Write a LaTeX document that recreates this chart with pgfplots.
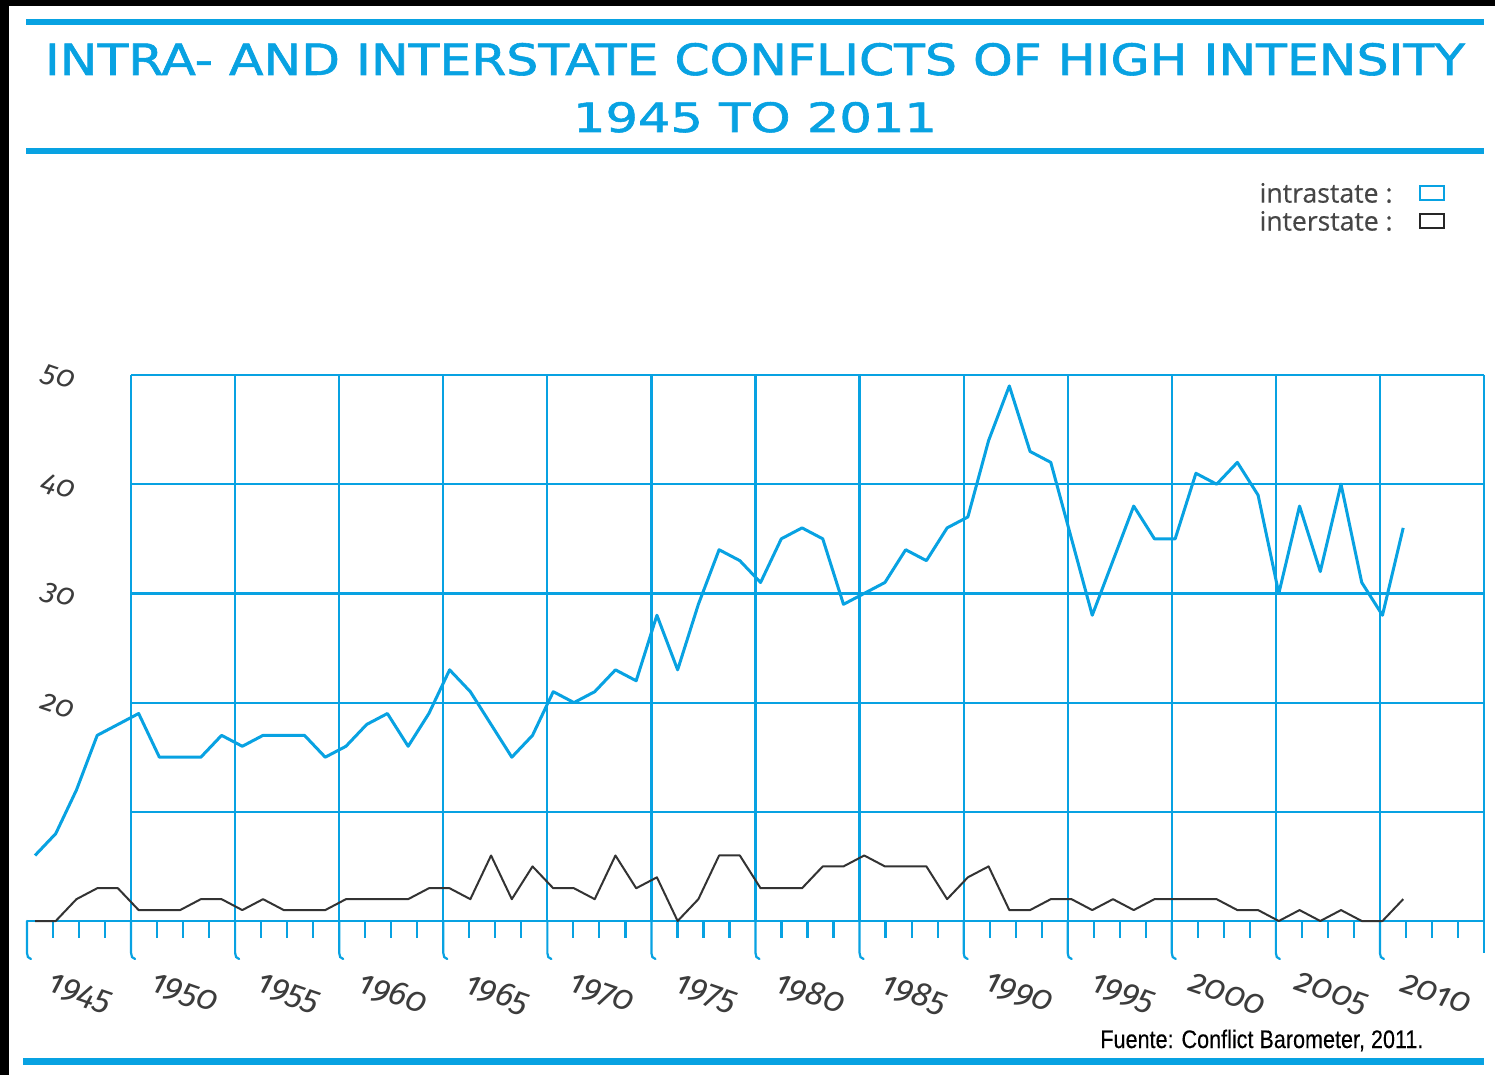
\documentclass[border=0pt]{standalone}
\usepackage{fontspec}
\usepackage{pgfplots}
\pgfplotsset{compat=1.18}
\setmainfont{Open Sans}
\newfontfamily\titlefont[FakeBold=1.3]{DejaVu Sans}
\newfontfamily\legfont[FakeBold=0.4]{Open Sans}
\newfontfamily\tickfont[Numbers=OldStyle]{Fira Sans}
\newfontfamily\srcfont[FakeBold=0.3]{Liberation Sans}
\definecolor{hblue}{RGB}{8,162,226}
\definecolor{tgray}{RGB}{60,60,60}
\definecolor{lgray}{RGB}{70,70,70}

\pgfplotstableread{
year intra inter
1945 6 0
1946 8 0
1947 12 2
1948 17 3
1949 18 3
1950 19 1
1951 15 1
1952 15 1
1953 15 2
1954 17 2
1955 16 1
1956 17 2
1957 17 1
1958 17 1
1959 15 1
1960 16 2
1961 18 2
1962 19 2
1963 16 2
1964 19 3
1965 23 3
1966 21 2
1967 18 6
1968 15 2
1969 17 5
1970 21 3
1971 20 3
1972 21 2
1973 23 6
1974 22 3
1975 28 4
1976 23 0
1977 29 2
1978 34 6
1979 33 6
1980 31 3
1981 35 3
1982 36 3
1983 35 5
1984 29 5
1985 30 6
1986 31 5
1987 34 5
1988 33 5
1989 36 2
1990 37 4
1991 44 5
1992 49 1
1993 43 1
1994 42 2
1995 35 2
1996 28 1
1997 33 2
1998 38 1
1999 35 2
2000 35 2
2001 41 2
2002 40 2
2003 42 1
2004 39 1
2005 30 0
2006 38 1
2007 32 0
2008 40 1
2009 31 0
2010 28 0
2011 36 2
}\conflicts

\begin{document}
\begin{tikzpicture}
\begin{scope}[x=0.5pt,y=-0.5pt]
  \path[use as bounding box] (0,0) rectangle (1495,1075);
  \fill[white] (0,0) rectangle (1495,1075);
  \fill[black] (0,0) rectangle (9,1075);
  \fill[black] (0,0) rectangle (1495,6);
  % rules
  \fill[hblue] (26,19) rectangle (1484,25);
  \fill[hblue] (26,148) rectangle (1484,154);
  \fill[hblue] (23,1058) rectangle (1484,1065);
  % title
  \node[inner sep=0pt, anchor=base, text=hblue] at (755,75)
    {\resizebox{710pt}{16pt}{\titlefont INTRA- AND INTERSTATE CONFLICTS OF HIGH INTENSITY}};
  \node[inner sep=0pt, anchor=base, text=hblue] at (755,132)
    {\resizebox{182pt}{15pt}{\titlefont 1945 TO 2011}};
  % legend
  \node[inner sep=0pt, anchor=east, text=lgray] at (1393,193)
    {\resizebox{66.5pt}{!}{\legfont intrastate :}};
  \node[inner sep=0pt, anchor=east, text=lgray] at (1393,221)
    {\resizebox{66.5pt}{!}{\legfont interstate :}};
  \draw[hblue, line width=1.1pt] (1420,186) rectangle (1444,200);
  \draw[black!85, line width=1.1pt] (1420,214) rectangle (1444,228);
  % source
  \node[inner sep=0pt, anchor=base west] at (1100,1048)
    {\resizebox{161.5pt}{9.2pt}{\srcfont Fuente: Conflict Barometer, 2011.}};
  % grid
  \begin{scope}[hblue, line width=1.1pt]
    \foreach \m in {1,...,5} {
      \pgfmathsetmacro\yy{921-109.2*\m}
      \draw (131.07,\yy) -- (1484,\yy);
    }
    \draw (27,921) -- (1484,921);
    \foreach \k in {1,...,13} {
      \pgfmathsetmacro\xx{27+104.0714*\k}
      \draw (\xx,375) -- (\xx,921);
    }
    \draw (1484,375) -- (1484,953);
    \foreach \k in {0,...,13} {
      \pgfmathsetmacro\xx{27+104.0714*\k}
      \pgfmathsetmacro\xh{\xx+4}
      \draw[line cap=round] (\xx,921) -- (\xx,953) to[out=-90,in=180] (\xh,959);
      \foreach \j in {1,2,3} {
        \pgfmathsetmacro\xm{\xx+26.018*\j}
        \draw (\xm,921) -- (\xm,938);
      }
    }
  \end{scope}
  % tick labels
  \foreach \lab [count=\i from 0] in {1945,1950,1955,1960,1965,1970,1975,1980,1985,1990,1995,2000,2005,2010} {
    \pgfmathsetmacro\xx{80+104.3*\i}
    \node[text=tgray, rotate=-19, inner sep=0pt] at (\xx,994)
      {\fontsize{17}{17}\selectfont\tickfont\itshape \lab};
  }
  \foreach \lab/\yy in {50/378,40/487,30/596,20/706} {
    \node[text=tgray, rotate=-19, inner sep=0pt] at (58,\yy)
      {\fontsize{15}{15}\selectfont\tickfont\itshape \lab};
  }
\end{scope}
\begin{axis}[
  at={(13.5pt,-460.5pt)}, anchor=south west,
  width=728.5pt, height=273pt, scale only axis,
  xmin=1944.614, xmax=2014.898, ymin=0, ymax=50,
  hide axis, clip=false,
]
\addplot[hblue, line width=1.5pt, line join=round] table[x=year, y=intra] {\conflicts};
\addplot[black!80, line width=1pt, line join=round] table[x=year, y=inter] {\conflicts};
\end{axis}
\end{tikzpicture}
\end{document}
